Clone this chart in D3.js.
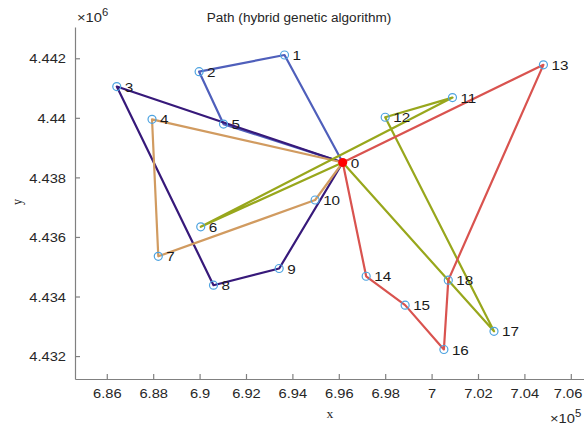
<!DOCTYPE html>
<html>
<head>
<meta charset="utf-8">
<script src="https://cdn.jsdelivr.net/npm/d3@7"></script>
<style>
  html, body { margin: 0; padding: 0; background: #fff; }
  svg { display: block; font-family: "Liberation Sans", Arial, sans-serif; }
</style>
</head>
<body>
<svg id="chart" width="584" height="425"></svg>
<script>
// Node coordinates (metres); node 0 is the depot
const nodeIds = [0, 1, 2, 3, 4, 5, 6, 7, 8, 9, 10, 11, 12, 13, 14, 15, 16, 17, 18];
const nodeX = [696170, 693660, 689980, 686430, 687950, 691030, 690050, 688220, 690600, 693430,
               694980, 700900, 698000, 704820, 697180, 698860, 700530, 702690, 700720];
const nodeY = [4438500, 4442110, 4441550, 4441050, 4439950, 4439790, 4436340, 4435350, 4434380, 4434940,
               4437240, 4440680, 4440020, 4441780, 4434680, 4433710, 4432220, 4432830, 4434550];

// Vehicle routes (node sequences, each starts and ends at the depot)
const routeA = [0, 1, 2, 5, 0];
const routeB = [0, 3, 8, 9, 0];
const routeC = [0, 4, 7, 10, 0];
const routeD = [0, 6, 11, 12, 17, 0];
const routeE = [0, 13, 18, 16, 15, 14, 0];
const routes = [routeA, routeB, routeC, routeD, routeE];
const routeColors = ["#4f5fbb", "#37197a", "#d19b60", "#98a71c", "#d9534f"];

// Axis ticks
const xTicks = [686000, 688000, 690000, 692000, 694000, 696000, 698000, 700000, 702000, 704000, 706000];
const yTicks = [4432000, 4434000, 4436000, 4438000, 4440000, 4442000];

const svg = d3.select("#chart");
const SX = 1.13; // slightly widened lettering

const x = d3.scaleLinear().domain([684630, 707000]).range([75, 594]);
const y = d3.scaleLinear().domain([4431230, 4443050]).range([379, 27]);

const axisColor = "#808080";
const textColor = "#262626";

// place a text element at (px, py) with widened glyphs
function label(px, py, opts) {
  const t = svg.append("text")
    .attr("transform", `translate(${px},${py}) scale(${SX},1)` + (opts.rotate ? ` rotate(${opts.rotate})` : ""))
    .attr("fill", opts.fill || textColor)
    .attr("font-size", opts.size || 13)
    .attr("text-anchor", opts.anchor || "start");
  if (opts.family) t.attr("font-family", opts.family);
  if (opts.html) t.html(opts.html); else t.text(opts.text);
  return t;
}

// Axes
const xAxis = svg.append("g").attr("transform", "translate(0,379)")
  .call(d3.axisBottom(x).tickValues(xTicks).tickSizeInner(-5).tickSizeOuter(0)
    .tickFormat(d => d3.format("~g")(d / 1e5)));
const yAxis = svg.append("g").attr("transform", "translate(75,0)")
  .call(d3.axisLeft(y).tickValues(yTicks).tickSizeInner(-5).tickSizeOuter(0)
    .tickFormat(d => d3.format("~g")(d / 1e6)));

[xAxis, yAxis].forEach(g => {
  g.select(".domain").attr("stroke", axisColor).attr("stroke-width", 1.2);
  g.selectAll(".tick line").attr("stroke", axisColor).attr("stroke-width", 1.2);
  g.selectAll(".tick text").attr("fill", textColor).attr("font-size", 13)
    .attr("font-family", "Liberation Sans, Arial, sans-serif");
});
xAxis.selectAll(".tick text").attr("y", 0).attr("dy", 0)
  .attr("transform", `translate(0,19) scale(${SX},1)`);
// keep the last x tick label inside the right edge
xAxis.selectAll(".tick text").filter(d => d === xTicks[xTicks.length - 1])
  .attr("text-anchor", "end")
  .attr("transform", `translate(11,19) scale(${SX},1)`);
yAxis.selectAll(".tick text").attr("x", 0).attr("dy", "0.36em")
  .attr("transform", `translate(-9,0) scale(${SX},1)`);

// Exponent labels
label(77, 22, { html: '×10<tspan dy="-6" font-size="10">6</tspan>' });
label(550, 423, { html: '×10<tspan dy="-6" font-size="10">5</tspan>' });

// Axis titles
label(330, 418, { text: "x", anchor: "middle", size: 12,
  family: "Liberation Serif, Times New Roman, serif" });
label(22, 202, { text: "y", anchor: "middle", size: 12, rotate: -90,
  family: "Liberation Serif, Times New Roman, serif" });

// Title
label(299, 22, { text: "Path (hybrid genetic algorithm)", anchor: "middle", size: 12 });

// Routes
const line = d3.line().x(i => x(nodeX[i])).y(i => y(nodeY[i]));
svg.append("g").selectAll("path").data(routes).join("path")
  .attr("d", r => line(r))
  .attr("fill", "none")
  .attr("stroke", (r, k) => routeColors[k])
  .attr("stroke-width", 2.2)
  .attr("stroke-linejoin", "round");

// Nodes
svg.append("g").selectAll("circle").data(nodeIds.slice(1)).join("circle")
  .attr("cx", i => x(nodeX[i]))
  .attr("cy", i => y(nodeY[i]))
  .attr("r", 4)
  .attr("fill", "none")
  .attr("stroke", "#4da3e0")
  .attr("stroke-width", 1.2);

// Depot
svg.append("circle")
  .attr("cx", x(nodeX[0])).attr("cy", y(nodeY[0]))
  .attr("r", 4.5).attr("fill", "#ff0000");

// Node labels
svg.append("g").selectAll("text").data(nodeIds).join("text")
  .attr("transform", i => `translate(${x(nodeX[i]) + 8},${y(nodeY[i])}) scale(${SX},1)`)
  .attr("dy", "0.38em")
  .attr("fill", "#1a1a1a")
  .attr("font-size", 13.5)
  .text(i => i);
</script>
</body>
</html>
